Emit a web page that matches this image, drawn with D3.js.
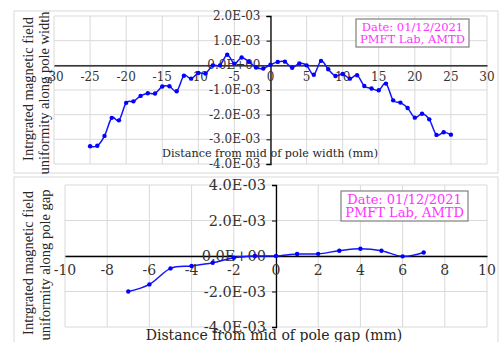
<!DOCTYPE html>
<html>
<head>
<meta charset="utf-8">
<script src="https://cdn.jsdelivr.net/npm/d3@7"></script>
<style>
  body { margin: 0; background: #fff; }
  svg { display: block; }
  .grid line { stroke: #d9d9d9; stroke-width: 1; }
  .tick-label { font-family: "DejaVu Serif", serif; fill: #333; }
  .title { font-family: "DejaVu Serif", serif; fill: #262626; }
  .ytitle { font-family: "Liberation Serif", serif; fill: #262626; }
  .note { font-family: "DejaVu Serif", serif; fill: #ff33ff; }
</style>
</head>
<body>
<svg id="chart" width="499" height="342"></svg>
<script>
// pole width scan (mm) and integrated field uniformity
var widthPos = d3.range(-25, 26);
var widthVals = [
  -3.28e-3, -3.26e-3, -2.86e-3, -2.13e-3, -2.23e-3, -1.52e-3, -1.46e-3, -1.24e-3, -1.13e-3, -1.14e-3,
  -0.86e-3, -0.85e-3, -1.05e-3, -0.42e-3, -0.54e-3, -0.31e-3, -0.33e-3, 0.0, 0.0, 0.43e-3,
  0.07e-3, 0.32e-3, 0.14e-3, -0.09e-3, -0.13e-3, 0.03e-3, 0.14e-3, 0.15e-3, -0.10e-3, 0.08e-3,
  0.0, -0.38e-3, 0.18e-3, -0.16e-3, -0.43e-3, -0.35e-3, -0.54e-3, -0.40e-3, -0.84e-3, -0.94e-3,
  -1.01e-3, -0.74e-3, -1.42e-3, -1.51e-3, -1.73e-3, -2.12e-3, -1.96e-3, -2.19e-3, -2.82e-3, -2.71e-3,
  -2.81e-3
];
var widthXTicks = [-30, -25, -20, -15, -10, -5, 0, 5, 10, 15, 20, 25, 30];
var widthYTicks = [-4e-3, -3e-3, -2e-3, -1e-3, 0, 1e-3, 2e-3];

// pole gap scan (mm)
var gapPos = d3.range(-7, 8);
var gapVals = [
  -2.0e-3, -1.6e-3, -0.7e-3, -0.56e-3, -0.38e-3, -0.1e-3, 0.0, 0.0,
  0.11e-3, 0.12e-3, 0.30e-3, 0.41e-3, 0.30e-3, -0.02e-3, 0.20e-3
];
var gapXTicks = [-10, -8, -6, -4, -2, 0, 2, 4, 6, 8, 10];
var gapYTicks = [-4e-3, -2e-3, 0, 2e-3, 4e-3];

var noteLines = ["Date: 01/12/2021", "PMFT Lab, AMTD"];

function fmtE(v) {
  if (Math.abs(v) < 1e-12) return "0.0E+00";
  var e = Math.floor(Math.log10(Math.abs(v)) + 1e-9);
  var m = v / Math.pow(10, e);
  return m.toFixed(1) + "E" + (e < 0 ? "-" : "+") + String(Math.abs(e)).padStart(2, "0");
}

var svg = d3.select("#chart");

function drawPanel(o) {
  var g = svg.append("g");

  // outer frame of the chart object
  g.append("rect")
    .attr("x", o.frame[0]).attr("y", o.frame[1])
    .attr("width", o.frame[2]).attr("height", o.frame[3])
    .attr("fill", "#fff").attr("stroke", "#d9d9d9");

  var x = d3.scaleLinear().domain(o.xDomain).range(o.xRange);
  var y = d3.scaleLinear().domain(o.yDomain).range(o.yRange);

  // gridlines
  var grid = g.append("g").attr("class", "grid");
  grid.selectAll(".v").data(o.xTicks).enter().append("line")
    .attr("x1", function(d) { return x(d); }).attr("x2", function(d) { return x(d); })
    .attr("y1", o.yRange[0]).attr("y2", o.yRange[1]);
  grid.selectAll(".h").data(o.yTicks).enter().append("line")
    .attr("y1", function(d) { return y(d); }).attr("y2", function(d) { return y(d); })
    .attr("x1", o.xRange[0]).attr("x2", o.xRange[1]);

  // axes crossing at zero
  var xAxis = d3.axisBottom(x).tickValues(o.xTicks).tickSize(0).tickFormat("");
  var yAxis = d3.axisLeft(y).tickValues(o.yTicks).tickSize(4).tickFormat("");
  g.append("g").attr("transform", "translate(0," + y(0) + ")").call(xAxis)
    .call(function(s) { s.select(".domain").attr("stroke", "#000").attr("stroke-width", 1.3); });
  g.append("g").attr("transform", "translate(" + x(0) + ",0)").call(yAxis)
    .call(function(s) {
      s.select(".domain").attr("stroke", "#000").attr("stroke-width", 1.3);
      s.selectAll(".tick line").attr("stroke", "#000");
    });

  // tick labels
  g.selectAll(".xl").data(o.xTicks).enter().append("text")
    .attr("class", "tick-label")
    .attr("x", function(d) { return x(d); })
    .attr("y", y(0) + o.xLabelDy)
    .attr("text-anchor", "middle")
    .attr("dominant-baseline", "central")
    .style("font-size", o.tickFont + "px")
    .text(function(d) { return d; });
  g.selectAll(".yl").data(o.yTicks).enter().append("text")
    .attr("class", "tick-label")
    .attr("x", x(0) - 10)
    .attr("y", function(d) { return y(d); })
    .attr("text-anchor", "end")
    .attr("dominant-baseline", "central")
    .style("font-size", o.yTickFont + "px")
    .text(function(d) { return fmtE(d); });

  // axis titles
  g.append("text").attr("class", "title")
    .attr("x", o.xTitle[0]).attr("y", o.xTitle[1])
    .attr("text-anchor", "middle")
    .attr("dominant-baseline", "central")
    .style("font-size", o.xTitleFont + "px")
    .text(o.xTitleText);
  o.yTitleText.forEach(function(t, i) {
    g.append("text").attr("class", "ytitle")
      .attr("transform", "translate(" + o.yTitle[i][0] + "," + o.yTitle[i][1] + ") rotate(-90)")
      .attr("text-anchor", "middle")
      .attr("dominant-baseline", "central")
      .style("font-size", o.yTitleFont + "px")
      .text(t);
  });

  // series
  var pts = o.pos.map(function(p, i) { return [p, o.vals[i]]; });
  var line = d3.line()
    .x(function(d) { return x(d[0]); })
    .y(function(d) { return y(d[1]); })
    .curve(d3.curveCardinal.tension(0));
  g.append("path").datum(pts)
    .attr("fill", "none").attr("stroke", "#1414ff").attr("stroke-width", 1.5)
    .attr("d", line);
  g.selectAll(".pt").data(pts).enter().append("circle")
    .attr("cx", function(d) { return x(d[0]); })
    .attr("cy", function(d) { return y(d[1]); })
    .attr("r", 2.2).attr("fill", "#0000ff");

  // note box
  var b = o.note;
  g.append("rect")
    .attr("x", b[0]).attr("y", b[1]).attr("width", b[2]).attr("height", b[3])
    .attr("fill", "#fff").attr("stroke", "#7f7f7f").attr("stroke-width", 1.2);
  noteLines.forEach(function(t, i) {
    g.append("text").attr("class", "note")
      .attr("x", b[0] + b[2] / 2)
      .attr("y", b[1] + b[3] * (i === 0 ? 0.29 : 0.72))
      .attr("text-anchor", "middle")
      .attr("dominant-baseline", "central")
      .style("font-size", o.noteFont + "px")
      .text(t);
  });
}

drawPanel({
  frame: [14, 11, 484, 162],
  xDomain: [-30, 30], xRange: [54, 487],
  yDomain: [-4e-3, 2e-3], yRange: [164, 16],
  xTicks: widthXTicks, yTicks: widthYTicks,
  pos: widthPos, vals: widthVals,
  tickFont: 12, yTickFont: 12, xLabelDy: 12,
  xTitle: [270, 153], xTitleFont: 11.2, xTitleText: "Distance from mid of pole width (mm)",
  yTitle: [[28, 89], [44, 93]], yTitleFont: 14.5,
  yTitleText: ["Intrgrated magnetic field", "uniformity along pole width"],
  note: [356, 19, 113, 28], noteFont: 11.5
});

drawPanel({
  frame: [14, 177, 484, 170],
  xDomain: [-10, 10], xRange: [65, 487],
  yDomain: [-4e-3, 4e-3], yRange: [327, 185],
  xTicks: gapXTicks, yTicks: gapYTicks,
  pos: gapPos, vals: gapVals,
  tickFont: 14, yTickFont: 14.5, xLabelDy: 14,
  xTitle: [274, 335], xTitleFont: 14, xTitleText: "Distance from mid of pole gap (mm)",
  yTitle: [[28, 263], [45, 265]], yTitleFont: 14.5,
  yTitleText: ["Intrgrated magnetic field", "uniformity along pole gap"],
  note: [341, 191, 127, 30], noteFont: 13
});
</script>
</body>
</html>
